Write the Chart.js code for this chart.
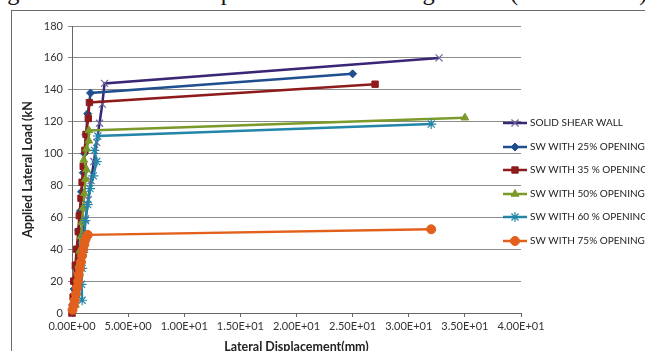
<!DOCTYPE html>
<html>
<head>
<meta charset="utf-8">
<script src="https://cdn.jsdelivr.net/npm/chart.js@4.4.1/dist/chart.umd.min.js"></script>
<style>
  html, body { margin: 0; padding: 0; background: #fff; width: 645px; height: 351px; overflow: hidden; }
  #wrap { position: relative; width: 645px; height: 351px; overflow: hidden; }
  #caption { position: absolute; left: -13px; top: -20px; font-family: "Liberation Serif", serif; font-size: 24.4px; line-height: 24.4px; white-space: nowrap; color: #111; }
  #frame { position: absolute; left: 11px; top: 10px; width: 700px; height: 400px; border: 1px solid #6a6a6a; box-sizing: border-box; }
  #chart { position: absolute; left: 0; top: 0; }
</style>
</head>
<body>
<div id="wrap">
  <div id="caption">Figure 13: Resultant displacement at cracking in mm (MNS Nodes)</div>
  <div id="frame"></div>
  <canvas id="chart" width="645" height="351"></canvas>
</div>
<script>
// series names
const seriesNames = ["SOLID SHEAR WALL", "SW WITH 25% OPENING", "SW WITH 35 % OPENING",
  "SW WITH 50% OPENING", "SW WITH 60 % OPENING", "SW WITH 75% OPENING"];

// [displacement mm, load kN]
const solidWall = [[0,0],[0.25,12],[0.5,24],[0.7,35],[0.95,47],[1.2,59],[1.45,71],[1.7,83],[1.95,95],[2.2,107],[2.45,119],[2.7,131],[2.9,144],[32.7,160]];
const open25 = [[0.05,5],[0.2,15],[0.35,28],[0.5,40],[0.6,52],[0.75,64],[0.85,76],[1.0,88],[1.1,100],[1.25,112],[1.4,125],[1.65,138],[25,150]];
const open35 = [[0,0],[0.1,10],[0.15,20],[0.3,30],[0.42,40],[0.56,51],[0.65,61],[0.8,72],[0.9,82],[1.0,92],[1.15,102],[1.25,112],[1.45,122],[1.55,132],[27,143.5]];
const open50 = [[0.3,5],[0.4,13],[0.5,21],[0.6,30],[0.7,39],[0.8,48],[0.9,57],[1.0,66],[1.1,75],[1.2,84],[1.3,90],[1.05,96],[1.3,103],[1.5,108],[1.5,114.5],[35,122.5]];
const open60 = [[0.9,8],[0.85,18],[0.9,28],[1.0,38],[1.1,48],[1.2,58],[1.4,68],[1.6,78],[1.9,86],[2.2,95],[2.0,102],[2.3,111],[32,118.5]];
const open75 = [[0.05,2],[0.15,5],[0.25,8],[0.35,12],[0.45,16],[0.55,20],[0.6,24],[0.7,28],[0.8,32],[0.9,36],[1.0,40],[1.1,43],[1.2,46],[1.3,48],[1.4,49],[32,52.5]];

const xTicks = [0, 5, 10, 15, 20, 25, 30, 35, 40];
const yTicks = [0, 20, 40, 60, 80, 100, 120, 140, 160, 180];

const lineColors = ["#3a2676", "#1f4f8f", "#8e1b1b", "#7b9a2a", "#2386a8", "#e2601c"];
const markerColors = ["#6e6498", "#1f4f8f", "#8e1b1b", "#7b9a2a", "#2386a8", "#e2601c"];
const markers = ["crossRot", "rectRot", "rect", "triangle", "star", "circle"];
const markerSizes = [5, 4, 4.5, 4.5, 5, 4.5];

const allSeries = [solidWall, open25, open35, open50, open60, open75];

const sciLabel = (v) => {
  let [m, e] = v.toExponential(2).toUpperCase().split("E");
  let sign = e[0] === "-" ? "-" : "+";
  e = e.replace(/[+-]/, "");
  if (e.length < 2) e = "0" + e;
  return m + "E" + sign + e;
};

const datasets = allSeries.map((pts, i) => ({
  label: seriesNames[i],
  data: pts.map(p => ({ x: p[0], y: p[1] })),
  borderColor: lineColors[i],
  backgroundColor: markerColors[i],
  pointBorderColor: markerColors[i],
  pointBackgroundColor: markerColors[i],
  pointStyle: markers[i],
  pointRadius: markerSizes[i],
  pointBorderWidth: (markers[i] === "crossRot" || markers[i] === "star") ? 1.2 : 1,
  borderWidth: 2.5,
  tension: 0,
  clip: false,
  order: allSeries.length - i
}));

// legend drawn at the right like the original
const sideLegend = {
  id: "sideLegend",
  afterDraw(chart) {
    const ctx = chart.ctx;
    const ys = [123, 147, 170, 194, 217, 241];
    ctx.save();
    chart.data.datasets.forEach((ds, i) => {
      const y = ys[i];
      ctx.strokeStyle = ds.borderColor;
      ctx.lineWidth = 2.5;
      ctx.beginPath();
      ctx.moveTo(503, y);
      ctx.lineTo(527, y);
      ctx.stroke();
      ctx.fillStyle = ds.pointBackgroundColor;
      ctx.strokeStyle = ds.pointBorderColor;
      ctx.lineWidth = ds.pointBorderWidth;
      Chart.helpers.drawPoint(ctx, { pointStyle: ds.pointStyle, radius: ds.pointRadius, rotation: 0, borderWidth: ds.pointBorderWidth }, 515, y);
      ctx.fillStyle = "#222";
      ctx.font = "10px Lato";
      ctx.textBaseline = "middle";
      ctx.textAlign = "left";
      ctx.fillText(ds.label, 530, y);
    });
    ctx.restore();
  }
};

new Chart(document.getElementById("chart"), {
  type: "scatter",
  data: { datasets: datasets },
  options: {
    responsive: false,
    animation: false,
    showLine: true,
    layout: { padding: { left: 14, top: 26, right: 124, bottom: 0 } },
    plugins: { legend: { display: false }, tooltip: { enabled: false } },
    scales: {
      x: {
        type: "linear",
        min: 0, max: 40,
        afterBuildTicks: (s) => { s.ticks = xTicks.map(v => ({ value: v })); },
        afterFit: (s) => { s.height = 38; },
        ticks: { callback: (v) => sciLabel(v), font: { family: "Lato", size: 11 }, color: "#333", padding: 3, maxRotation: 0, autoSkip: false },
        grid: { drawOnChartArea: false, drawTicks: true, tickLength: 4, color: "#666" },
        border: { color: "#666", width: 1 },
        title: { display: true, text: "Lateral Displacement(mm)", font: { family: "Lato", size: 12.5, weight: "bold" }, color: "#222", padding: { top: 0, bottom: -3 } }
      },
      y: {
        type: "linear",
        min: 0, max: 180,
        afterBuildTicks: (s) => { s.ticks = yTicks.map(v => ({ value: v })); },
        afterFit: (s) => { s.width = 58; },
        ticks: { font: { family: "Lato", size: 11 }, color: "#333", padding: 5 },
        grid: { color: "#8c8c8c", tickLength: 4, lineWidth: 1 },
        border: { color: "#666", width: 1 },
        title: { display: true, text: "Applied Lateral Load (kN", font: { family: "Lato", size: 12.5, weight: "bold" }, color: "#222", padding: { top: 6, bottom: 0 } }
      }
    }
  },
  plugins: [sideLegend]
});
</script>
</body>
</html>
